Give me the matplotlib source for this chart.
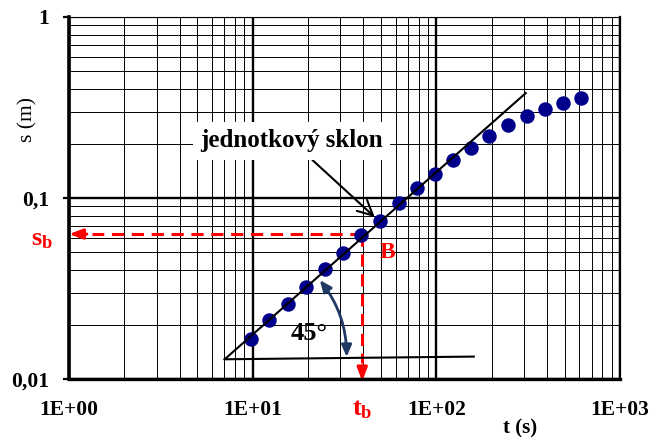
import numpy as np
import matplotlib
matplotlib.use("Agg")
import matplotlib.pyplot as plt
from matplotlib.ticker import FixedLocator, FixedFormatter, NullFormatter, LogLocator

plt.rcParams["font.family"] = ["Liberation Serif", "DejaVu Serif"]
plt.rcParams["mathtext.fontset"] = "custom"
plt.rcParams["mathtext.rm"] = "Liberation Serif"
plt.rcParams["mathtext.bf"] = "Liberation Serif:bold"

# measured drawdown: time (s) and drawdown (m)
t = [9.8, 12.3, 15.5, 19.6, 24.7, 31, 39, 49.5, 63, 78, 98, 123, 155, 194, 246, 310, 390, 490, 615]
s = [0.0166, 0.0211, 0.0261, 0.0324, 0.0404, 0.0499, 0.0627, 0.075, 0.0934, 0.114,
     0.136, 0.162, 0.190, 0.221, 0.252, 0.284, 0.309, 0.336, 0.356]

# unit slope line and the horizontal base of the 45 degree angle
slope_t = [7.04, 307]
slope_s = [0.01285, 0.380]
base_t = [7.04, 160]
base_s = [0.01285, 0.0133]

# point B
t_b = 39.5
s_b = 0.0632

x_ticks = [1, 10, 100, 1000]
x_labels = ["1E+00", "1E+01", "1E+02", "1E+03"]
y_ticks = [0.01, 0.1, 1]
y_labels = ["0,01", "0,1", "1"]

red = "#ff0000"
navy = "#00008b"
arc_blue = "#1f3864"

fig = plt.figure(figsize=(6.53, 4.37), dpi=100)
ax = fig.add_axes([69 / 653, 1 - 379 / 437, 551 / 653, 362 / 437])
ax.set_xscale("log")
ax.set_yscale("log")
ax.set_xlim(1, 1000)
ax.set_ylim(0.01, 1)

ax.set_axisbelow(True)
ax.xaxis.set_major_locator(FixedLocator(x_ticks))
ax.xaxis.set_major_formatter(FixedFormatter(x_labels))
ax.yaxis.set_major_locator(FixedLocator(y_ticks))
ax.yaxis.set_major_formatter(FixedFormatter(y_labels))
for axis in (ax.xaxis, ax.yaxis):
    axis.set_minor_locator(LogLocator(base=10, subs=np.arange(2, 10)))
    axis.set_minor_formatter(NullFormatter())

ax.grid(which="major", color="black", linewidth=1.7)
ax.grid(which="minor", color="black", linewidth=0.7)
ax.get_ygridlines()[-1].set_linewidth(0.8)

ax.tick_params(axis="x", which="both", length=0, pad=15, labelsize=15.5)
ax.tick_params(axis="y", which="major", length=4.5, width=1.6, direction="out",
               pad=10, labelsize=15.5)
ax.tick_params(axis="y", which="minor", length=0)
for lab in ax.get_xticklabels() + ax.get_yticklabels():
    lab.set_fontweight("bold")

ax.spines["left"].set_linewidth(2.6)
ax.spines["bottom"].set_linewidth(2.4)
ax.spines["right"].set_linewidth(1.6)
ax.spines["top"].set_linewidth(0.8)

# data points and lines
ax.plot(t, s, "o", color=navy, markersize=9.4, zorder=3)
ax.plot(slope_t, slope_s, color="black", linewidth=1.5, zorder=4)
ax.plot(base_t, base_s, color="black", linewidth=1.5, zorder=4)

# red dashed guides to the axes
ax.plot([t_b, 1.33], [s_b, s_b], color=red, linewidth=2.2, dashes=(4, 2.5), zorder=2)
ax.annotate("", xy=(1.0, s_b), xytext=(1.25, s_b),
            arrowprops=dict(arrowstyle="-|>,head_length=0.8,head_width=0.3",
                            color=red, lw=2.2, shrinkA=0, shrinkB=0), zorder=2)
ax.plot([t_b, t_b], [s_b, 0.0122], color=red, linewidth=2.2, dashes=(4, 2.5), zorder=2)
ax.annotate("", xy=(t_b, 0.0097), xytext=(t_b, 0.0118),
            arrowprops=dict(arrowstyle="-|>,head_length=0.8,head_width=0.3",
                            color=red, lw=2.2, shrinkA=0, shrinkB=0),
            annotation_clip=False, zorder=2)

ax.text(0.82, 0.0586, r"$\mathbf{s_b}$", color=red, fontsize=19, ha="right", va="center",
        clip_on=False)
ax.text(t_b, 0.0068, r"$\mathbf{t_b}$", color=red, fontsize=19, ha="center", va="center",
        clip_on=False)
ax.text(54.4, 0.0503, "B", color=red, fontsize=17, fontweight="bold", ha="center", va="center")

# 45 degree arc
ax.annotate("", xy=(32.5, 0.01323), xytext=(23.2, 0.0352),
            arrowprops=dict(arrowstyle="<|-|>,head_length=0.7,head_width=0.3",
                            color=arc_blue, lw=2.0, shrinkA=0, shrinkB=0,
                            connectionstyle="arc3,rad=-0.17"), zorder=5)
ax.text(20.4, 0.01795, "45°", fontsize=19, fontweight="bold", ha="center", va="center")

# unit slope label
ax.annotate("jednotkový sklon", xy=(47.4, 0.0766), xytext=(16.3, 0.2065),
            fontsize=18, fontweight="bold", ha="center", va="center",
            bbox=dict(boxstyle="square,pad=0.3", fc="white", ec="none"),
            arrowprops=dict(arrowstyle="->,head_length=0.6,head_width=0.3",
                            color="black", lw=1.5, shrinkA=0, shrinkB=2),
            zorder=6)

fig.text(28 / 653, 1 - 120 / 437, "s (m)", rotation=90, fontsize=15.5,
         ha="center", va="center")
fig.text(520 / 653, 1 - 418 / 437, "t (s)", fontsize=15, fontweight="bold",
         ha="center", va="top")

fig.savefig("out.png", dpi=100)
